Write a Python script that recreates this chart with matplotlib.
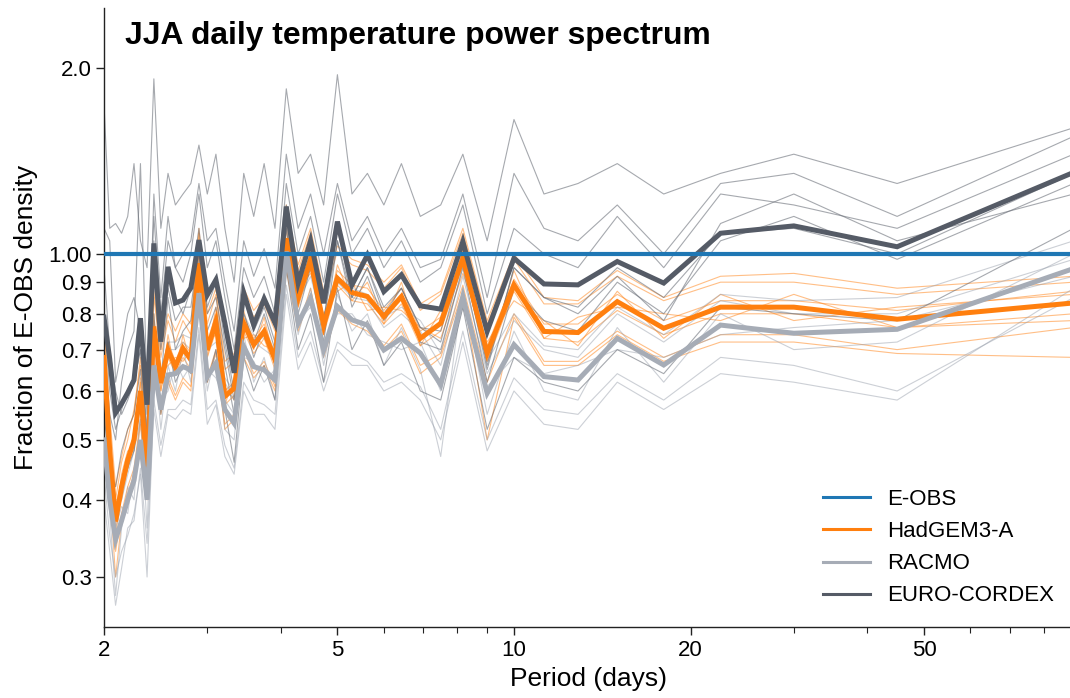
import numpy as np
import matplotlib
matplotlib.use("Agg")
import matplotlib.pyplot as plt
from matplotlib.lines import Line2D
from matplotlib.ticker import FixedLocator, FixedFormatter, NullLocator

plt.rcParams['font.family'] = ['Liberation Sans', 'DejaVu Sans']

# Fourier periods of a 90-day JJA season, harmonic k = 45 ... 1 (2 days -> 90 days)
harmonics = list(range(45, 0, -1))
season_length = 90

# Ensemble / group means (fraction of E-OBS spectral density)
hadgem_mean = [0.68, 0.48, 0.369, 0.42, 0.464, 0.50, 0.60, 0.453, 0.763, 0.618, 0.699, 0.657, 0.703, 0.674, 0.966,
               0.699, 0.777, 0.588, 0.606, 0.772, 0.713, 0.749, 0.674, 1.060, 0.848, 0.978, 0.767, 0.913, 0.866, 0.853,
               0.792, 0.853, 0.730, 0.772, 0.984, 0.691, 0.891, 0.749, 0.746, 0.837, 0.758, 0.820, 0.820, 0.784, 0.833]
racmo_mean = [0.50, 0.40, 0.345, 0.37, 0.40, 0.43, 0.50, 0.40, 0.66, 0.56, 0.637, 0.64, 0.657, 0.649, 0.864,
              0.633, 0.665, 0.56, 0.532, 0.708, 0.657, 0.649, 0.625, 1.009, 0.772, 0.848, 0.699, 0.822, 0.782, 0.767,
              0.699, 0.730, 0.691, 0.614, 0.853, 0.595, 0.713, 0.633, 0.625, 0.730, 0.661, 0.767, 0.744, 0.755, 0.947]
cordex_mean = [0.79, 0.676, 0.553, 0.572, 0.596, 0.625, 0.787, 0.57, 1.04, 0.721, 0.953, 0.833, 0.842, 0.881, 1.053,
               0.858, 0.908, 0.773, 0.642, 0.865, 0.767, 0.846, 0.773, 1.193, 0.897, 1.05, 0.832, 1.128, 0.891, 0.996,
               0.869, 0.925, 0.824, 0.814, 1.047, 0.749, 0.984, 0.894, 0.891, 0.972, 0.897, 1.080, 1.110, 1.027, 1.355]

# HadGEM3-A ensemble members
hadgem_members = [
    [0.75, 0.52, 0.40, 0.46, 0.50, 0.56, 0.66, 0.50, 0.85, 0.68, 0.78, 0.72, 0.78, 0.74, 1.08, 0.77, 0.86, 0.65, 0.67, 0.86, 0.79, 0.83, 0.75, 1.18, 0.94, 1.08, 0.85, 1.01, 0.96, 0.94, 0.88, 0.95, 0.81, 0.86, 1.08, 0.77, 0.98, 0.83, 0.83, 0.92, 0.84, 0.90, 0.90, 0.86, 0.90],
    [0.60, 0.43, 0.33, 0.38, 0.42, 0.45, 0.54, 0.41, 0.69, 0.56, 0.63, 0.59, 0.63, 0.61, 0.87, 0.63, 0.70, 0.53, 0.55, 0.70, 0.64, 0.67, 0.61, 0.95, 0.76, 0.88, 0.69, 0.82, 0.78, 0.77, 0.71, 0.77, 0.66, 0.69, 0.89, 0.62, 0.80, 0.67, 0.67, 0.75, 0.68, 0.74, 0.74, 0.70, 0.76],
    [0.70, 0.45, 0.36, 0.44, 0.48, 0.48, 0.63, 0.44, 0.80, 0.60, 0.74, 0.64, 0.74, 0.66, 1.02, 0.68, 0.82, 0.57, 0.63, 0.81, 0.70, 0.79, 0.66, 1.12, 0.82, 1.03, 0.74, 0.96, 0.84, 0.90, 0.77, 0.90, 0.71, 0.81, 1.04, 0.67, 0.94, 0.73, 0.79, 0.82, 0.80, 0.78, 0.86, 0.76, 0.80],
    [0.64, 0.50, 0.38, 0.40, 0.45, 0.52, 0.57, 0.47, 0.72, 0.64, 0.66, 0.68, 0.67, 0.70, 0.91, 0.72, 0.74, 0.61, 0.58, 0.73, 0.74, 0.71, 0.70, 1.00, 0.88, 0.93, 0.80, 0.87, 0.90, 0.81, 0.82, 0.81, 0.76, 0.73, 0.93, 0.72, 0.84, 0.78, 0.71, 0.87, 0.73, 0.86, 0.78, 0.82, 0.86],
    [0.78, 0.55, 0.42, 0.47, 0.52, 0.55, 0.68, 0.51, 0.87, 0.70, 0.80, 0.75, 0.80, 0.77, 1.10, 0.80, 0.88, 0.67, 0.69, 0.88, 0.81, 0.85, 0.77, 1.20, 0.96, 1.10, 0.87, 1.03, 0.98, 0.96, 0.90, 0.96, 0.83, 0.87, 1.10, 0.78, 1.00, 0.85, 0.84, 0.94, 0.85, 0.92, 0.93, 0.88, 0.92],
    [0.58, 0.42, 0.30, 0.37, 0.41, 0.44, 0.53, 0.40, 0.67, 0.55, 0.62, 0.58, 0.62, 0.60, 0.85, 0.62, 0.69, 0.52, 0.54, 0.68, 0.63, 0.66, 0.60, 0.94, 0.75, 0.86, 0.68, 0.81, 0.77, 0.75, 0.70, 0.75, 0.64, 0.68, 0.87, 0.50, 0.79, 0.66, 0.66, 0.74, 0.67, 0.72, 0.72, 0.69, 0.68],
    [0.72, 0.50, 0.39, 0.43, 0.47, 0.51, 0.62, 0.46, 0.78, 0.64, 0.72, 0.67, 0.72, 0.69, 0.99, 0.72, 0.80, 0.60, 0.62, 0.79, 0.73, 0.77, 0.69, 1.09, 0.87, 1.00, 0.79, 0.94, 0.89, 0.88, 0.81, 0.88, 0.75, 0.79, 1.01, 0.71, 0.91, 0.77, 0.77, 0.86, 0.78, 0.84, 0.84, 0.81, 0.87],
    [0.66, 0.46, 0.35, 0.41, 0.45, 0.49, 0.58, 0.44, 0.74, 0.60, 0.68, 0.64, 0.68, 0.65, 0.94, 0.68, 0.75, 0.57, 0.59, 0.75, 0.69, 0.73, 0.65, 1.03, 0.82, 0.95, 0.74, 0.89, 0.84, 0.83, 0.77, 0.83, 0.71, 0.75, 0.96, 0.67, 0.87, 0.73, 0.72, 0.81, 0.74, 0.80, 0.80, 0.76, 0.78],
]

# RACMO ensemble members
racmo_members = [
    [0.58, 0.45, 0.38, 0.42, 0.46, 0.50, 0.58, 0.46, 0.75, 0.64, 0.72, 0.72, 0.74, 0.73, 0.97, 0.71, 0.75, 0.63, 0.60, 0.80, 0.74, 0.73, 0.70, 1.12, 0.87, 0.95, 0.79, 0.92, 0.88, 0.86, 0.79, 0.82, 0.78, 0.69, 0.96, 0.67, 0.80, 0.71, 0.70, 0.82, 0.74, 0.86, 0.84, 0.85, 1.05],
    [0.44, 0.35, 0.30, 0.33, 0.35, 0.38, 0.44, 0.30, 0.58, 0.49, 0.56, 0.56, 0.58, 0.57, 0.76, 0.56, 0.58, 0.49, 0.45, 0.62, 0.58, 0.57, 0.55, 0.89, 0.68, 0.75, 0.62, 0.72, 0.69, 0.67, 0.62, 0.64, 0.61, 0.52, 0.75, 0.50, 0.63, 0.56, 0.55, 0.64, 0.58, 0.68, 0.66, 0.60, 0.85],
    [0.52, 0.38, 0.28, 0.36, 0.42, 0.40, 0.55, 0.36, 0.70, 0.52, 0.66, 0.60, 0.70, 0.62, 0.90, 0.60, 0.70, 0.52, 0.50, 0.74, 0.62, 0.68, 0.58, 1.05, 0.74, 0.88, 0.66, 0.86, 0.75, 0.80, 0.66, 0.76, 0.65, 0.47, 0.88, 0.55, 0.75, 0.60, 0.58, 0.76, 0.62, 0.80, 0.70, 0.72, 1.00],
    [0.46, 0.42, 0.36, 0.39, 0.38, 0.45, 0.47, 0.42, 0.62, 0.58, 0.60, 0.67, 0.63, 0.66, 0.82, 0.65, 0.63, 0.58, 0.55, 0.68, 0.67, 0.62, 0.65, 0.96, 0.78, 0.82, 0.72, 0.80, 0.80, 0.74, 0.72, 0.70, 0.72, 0.60, 0.82, 0.61, 0.68, 0.64, 0.66, 0.70, 0.68, 0.74, 0.76, 0.78, 0.92],
    [0.40, 0.33, 0.27, 0.31, 0.36, 0.37, 0.45, 0.34, 0.56, 0.47, 0.55, 0.54, 0.56, 0.55, 0.74, 0.53, 0.57, 0.47, 0.44, 0.60, 0.55, 0.55, 0.52, 0.86, 0.65, 0.72, 0.60, 0.70, 0.66, 0.66, 0.60, 0.62, 0.58, 0.50, 0.72, 0.48, 0.60, 0.53, 0.52, 0.62, 0.56, 0.64, 0.62, 0.58, 0.88],
    [0.62, 0.48, 0.40, 0.40, 0.44, 0.48, 0.54, 0.44, 0.72, 0.62, 0.70, 0.70, 0.72, 0.70, 0.94, 0.70, 0.72, 0.62, 0.58, 0.78, 0.72, 0.70, 0.68, 1.10, 0.84, 0.92, 0.76, 0.90, 0.85, 0.84, 0.76, 0.80, 0.75, 0.66, 0.92, 0.64, 0.78, 0.70, 0.68, 0.80, 0.72, 0.84, 0.80, 0.80, 0.98],
]

# EURO-CORDEX ensemble members
cordex_members = [
    [1.75, 1.10, 1.12, 1.08, 1.15, 1.40, 1.05, 0.95, 1.92, 1.10, 1.35, 1.20, 1.25, 1.30, 1.50, 1.25, 1.45, 1.10, 0.90, 1.35, 1.15, 1.40, 1.10, 1.85, 1.35, 1.45, 1.20, 1.95, 1.25, 1.35, 1.20, 1.40, 1.15, 1.20, 1.45, 1.05, 1.65, 1.25, 1.30, 1.40, 1.25, 1.35, 1.45, 1.30, 1.60],
    [0.70, 0.55, 0.50, 0.62, 0.70, 0.75, 1.40, 0.60, 1.15, 0.80, 1.05, 0.95, 0.90, 1.00, 1.25, 0.95, 1.05, 0.85, 0.70, 0.95, 0.85, 0.92, 0.80, 1.30, 1.00, 1.15, 0.90, 1.25, 1.00, 1.10, 0.95, 1.05, 0.90, 0.95, 1.20, 0.80, 1.10, 1.00, 0.95, 1.15, 0.95, 1.25, 1.20, 1.10, 1.45],
    [0.55, 0.45, 0.42, 0.48, 0.52, 0.55, 0.65, 0.48, 0.95, 0.62, 0.85, 0.70, 0.75, 0.78, 1.00, 0.75, 0.82, 0.66, 0.55, 0.78, 0.68, 0.76, 0.66, 1.10, 0.80, 0.95, 0.72, 1.05, 0.82, 0.92, 0.78, 0.85, 0.72, 0.70, 0.95, 0.62, 0.88, 0.78, 0.75, 0.90, 0.80, 1.05, 1.15, 0.98, 1.30],
    [0.95, 0.70, 0.60, 0.55, 0.58, 0.62, 0.70, 0.52, 1.05, 0.75, 0.92, 0.85, 0.80, 0.88, 1.10, 0.82, 0.90, 0.72, 0.60, 0.85, 0.75, 0.82, 0.72, 1.20, 0.88, 1.00, 0.78, 1.10, 0.85, 0.95, 0.82, 0.88, 0.76, 0.75, 1.00, 0.66, 0.95, 0.85, 0.80, 0.92, 0.78, 1.12, 1.25, 1.05, 1.25],
    [0.45, 0.40, 0.38, 0.42, 0.45, 0.48, 0.58, 0.42, 0.80, 0.55, 0.72, 0.62, 0.66, 0.64, 0.85, 0.62, 0.70, 0.56, 0.46, 0.68, 0.60, 0.66, 0.58, 0.95, 0.70, 0.80, 0.62, 0.88, 0.70, 0.78, 0.66, 0.72, 0.60, 0.58, 0.82, 0.52, 0.68, 0.62, 0.60, 0.70, 0.64, 0.82, 0.80, 0.78, 1.10],
    [1.10, 1.05, 0.62, 0.70, 0.80, 0.85, 0.75, 0.55, 1.25, 0.85, 1.15, 0.95, 1.00, 1.05, 1.30, 1.05, 1.10, 0.90, 0.75, 1.05, 0.92, 1.02, 0.88, 1.45, 1.10, 1.25, 1.00, 1.30, 1.05, 1.15, 1.00, 1.10, 0.95, 0.98, 1.25, 0.85, 1.35, 1.10, 1.05, 1.20, 1.00, 1.30, 1.35, 1.15, 1.55],
    [0.80, 0.60, 0.52, 0.56, 0.60, 0.62, 0.70, 0.50, 0.98, 0.70, 0.88, 0.78, 0.82, 0.82, 1.02, 0.80, 0.85, 0.70, 0.58, 0.80, 0.72, 0.80, 0.70, 1.15, 0.85, 0.98, 0.78, 1.05, 0.85, 0.95, 0.80, 0.88, 0.76, 0.72, 0.98, 0.65, 0.95, 0.85, 0.82, 0.95, 0.85, 1.08, 1.10, 1.00, 1.35],
]

y_ticks = [0.3, 0.4, 0.5, 0.6, 0.7, 0.8, 0.9, 1.0, 2.0]
y_tick_labels = ["0.3", "0.4", "0.5", "0.6", "0.7", "0.8", "0.9", "1.00", "2.0"]
x_ticks = [2, 5, 10, 20, 50]
x_tick_labels = ["2", "5", "10", "20", "50"]

C_EOBS = "#1f77b4"
C_HAD = "#ff7f0e"
C_RAC = "#a6acb6"
C_COR = "#555b66"

period = season_length / np.array(harmonics, dtype=float)

fig = plt.figure(figsize=(10.70, 6.98), dpi=100)
ax = fig.add_axes([104 / 1070, 71 / 698, 969.7 / 1070, 619 / 698])
ax.set_xscale("log")
ax.set_yscale("log")

for m in hadgem_members:
    ax.plot(period, m, color=C_HAD, lw=0.8, alpha=0.5, zorder=2)
for m in racmo_members:
    ax.plot(period, m, color="#9aa1ad", lw=0.8, alpha=0.5, zorder=2)
for m in cordex_members:
    ax.plot(period, m, color="#6b7079", lw=0.8, alpha=0.6, zorder=2)

ax.plot(period, hadgem_mean, color=C_HAD, lw=3.6, zorder=4, solid_joinstyle="miter")
ax.plot(period, racmo_mean, color=C_RAC, lw=3.6, zorder=4, solid_joinstyle="miter")
ax.plot(period, cordex_mean, color=C_COR, lw=3.6, zorder=5, solid_joinstyle="miter")
ax.plot(period, np.ones_like(period), color=C_EOBS, lw=3.0, zorder=6)

ax.set_xlim(2, 90)
ax.set_ylim(0.249, 2.5)

ax.yaxis.set_major_locator(FixedLocator(y_ticks))
ax.yaxis.set_major_formatter(FixedFormatter(y_tick_labels))
ax.yaxis.set_minor_locator(NullLocator())
ax.xaxis.set_major_locator(FixedLocator(x_ticks))
ax.xaxis.set_major_formatter(FixedFormatter(x_tick_labels))
ax.xaxis.set_minor_locator(FixedLocator([3, 4, 6, 7, 8, 9, 30, 40, 60, 70, 80]))
ax.xaxis.set_minor_formatter(FixedFormatter([""] * 11))

for s in ("top", "right"):
    ax.spines[s].set_visible(False)
for s in ("left", "bottom"):
    ax.spines[s].set_linewidth(1.0)
    ax.spines[s].set_color("#222222")

ax.tick_params(axis="both", which="major", labelsize=16, length=6, width=1.0, pad=3, color="#222222")
ax.tick_params(axis="x", which="minor", length=4, width=0.8, color="#222222")

ax.set_xlabel("Period (days)", fontsize=19, labelpad=5)
ax.set_ylabel("Fraction of E-OBS density", fontsize=19, labelpad=7)

fig.text(125 / 1070, 1 - 44 / 698, "JJA daily temperature power spectrum",
         fontsize=22.9, fontweight="bold", va="baseline", ha="left")

handles = [
    Line2D([], [], color=C_EOBS, lw=2.2),
    Line2D([], [], color=C_HAD, lw=2.2),
    Line2D([], [], color=C_RAC, lw=2.2),
    Line2D([], [], color=C_COR, lw=2.2),
]
ax.legend(handles, ["E-OBS", "HadGEM3-A", "RACMO", "EURO-CORDEX"], loc="lower right",
          bbox_to_anchor=(1070 / 1070, 76 / 698), bbox_transform=fig.transFigure,
          frameon=False, fontsize=16, handlelength=2.1, handletextpad=0.8, labelspacing=0.5,
          borderpad=0.2)

fig.savefig("out.png", dpi=100)
